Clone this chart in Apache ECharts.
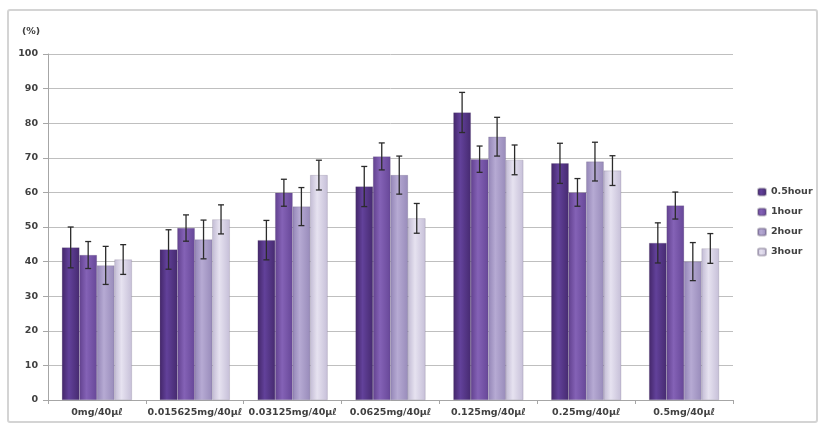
<!DOCTYPE html>
<html>
<head>
<meta charset="utf-8">
<script src="https://cdn.jsdelivr.net/npm/echarts@6/dist/echarts.min.js"></script>
<style>html,body{margin:0;padding:0;background:#fff}#c{width:827px;height:436px}</style>
</head>
<body>
<div id="c"></div>
<script>
var categories = ['0mg/40μℓ', '0.015625mg/40μℓ', '0.03125mg/40μℓ', '0.0625mg/40μℓ', '0.125mg/40μℓ', '0.25mg/40μℓ', '0.5mg/40μℓ'];
var seriesNames = ['0.5hour', '1hour', '2hour', '3hour'];
var v05 = [44.1, 43.5, 46.2, 61.7, 83.1, 68.4, 45.4];
var e05 = [5.9, 5.7, 5.7, 5.8, 5.8, 5.8, 5.8];
var v1 = [41.9, 49.7, 59.9, 70.4, 69.6, 60.0, 56.2];
var e1 = [3.9, 3.8, 3.9, 3.9, 3.8, 4.0, 3.9];
var v2 = [38.9, 46.4, 55.9, 65.0, 76.1, 68.9, 40.0];
var e2 = [5.5, 5.6, 5.5, 5.5, 5.6, 5.6, 5.5];
var v3 = [40.6, 52.2, 65.0, 52.5, 69.4, 66.3, 43.8];
var e3 = [4.3, 4.2, 4.3, 4.3, 4.3, 4.3, 4.3];
var yTicks = [0, 10, 20, 30, 40, 50, 60, 70, 80, 90, 100];

var values = [v05, v1, v2, v3];
var errors = [e05, e1, e2, e3];
var shades = [
  ['#432669', '#62419a', '#462a70'],
  ['#62418f', '#8462b6', '#674798'],
  ['#9385b6', '#b6aad3', '#988bba'],
  ['#c2bbd4', '#e6e2f0', '#c6bfd8']
];
var BW = 17.5;

function grad(s) {
  return new echarts.graphic.LinearGradient(0, 0, 1, 0, [
    {offset: 0, color: s[0]}, {offset: 0.4, color: s[1]}, {offset: 1, color: s[2]}
  ]);
}

var chart = echarts.init(document.getElementById('c'), null, {renderer: 'canvas'});
var series = [];
seriesNames.forEach(function (name, i) {
  series.push({
    name: name, type: 'bar', data: values[i], barWidth: BW, barGap: '0%',
    itemStyle: {color: grad(shades[i]), borderColor: 'rgba(80,70,100,0.35)', borderWidth: 0.5}
  });
});
seriesNames.forEach(function (name, i) {
  var d = values[i].map(function (v, k) { return [k, v - errors[i][k], v + errors[i][k]]; });
  series.push({
    type: 'custom', data: d, z: 10, silent: true,
    renderItem: function (params, api) {
      var lo = api.coord([api.value(0), api.value(1)]);
      var hi = api.coord([api.value(0), api.value(2)]);
      var x = lo[0] + (i - 1.5) * BW;
      var cap = 3;
      var st = {stroke: '#2b2b2b', lineWidth: 1.3};
      return {type: 'group', children: [
        {type: 'line', shape: {x1: x, y1: lo[1], x2: x, y2: hi[1]}, style: st},
        {type: 'line', shape: {x1: x - cap, y1: lo[1], x2: x + cap, y2: lo[1]}, style: st},
        {type: 'line', shape: {x1: x - cap, y1: hi[1], x2: x + cap, y2: hi[1]}, style: st}
      ]};
    }
  });
});

chart.setOption({
  animation: false,
  backgroundColor: '#fff',
  textStyle: {fontFamily: 'DejaVu Sans'},
  graphic: [
    {type: 'rect', shape: {x: 8, y: 10, width: 809, height: 412, r: 2}, style: {fill: 'none', stroke: '#d4d4d4', lineWidth: 2}, z: -10},
    {type: 'text', left: 22, top: 27, style: {text: '(%)', fill: '#404040', font: 'bold 9.5px "DejaVu Sans"'}}
  ],
  legend: {
    orient: 'vertical', left: 752, top: 182, itemWidth: 8, itemHeight: 7, itemGap: 10,
    data: seriesNames,
    textStyle: {fontSize: 9.5, color: '#404040', fontWeight: 'bold'}
  },
  grid: {left: 48, right: 94, top: 54, bottom: 36},
  xAxis: {
    type: 'category', data: categories,
    axisLine: {lineStyle: {color: '#a6a6a6'}},
    axisTick: {show: true, length: 4, lineStyle: {color: '#a6a6a6'}},
    axisLabel: {fontSize: 9.5, color: '#404040', margin: 8, interval: 0, fontWeight: 'bold'}
  },
  yAxis: {
    type: 'value', min: yTicks[0], max: yTicks[yTicks.length - 1], interval: 10,
    axisLine: {show: true, lineStyle: {color: '#a6a6a6'}},
    axisTick: {show: true, length: 5, lineStyle: {color: '#a6a6a6'}},
    axisLabel: {fontSize: 9.5, color: '#404040', margin: 10, fontWeight: 'bold'},
    splitLine: {lineStyle: {color: '#bfbfbf', width: 1}}
  },
  series: series
});
</script>
</body>
</html>
